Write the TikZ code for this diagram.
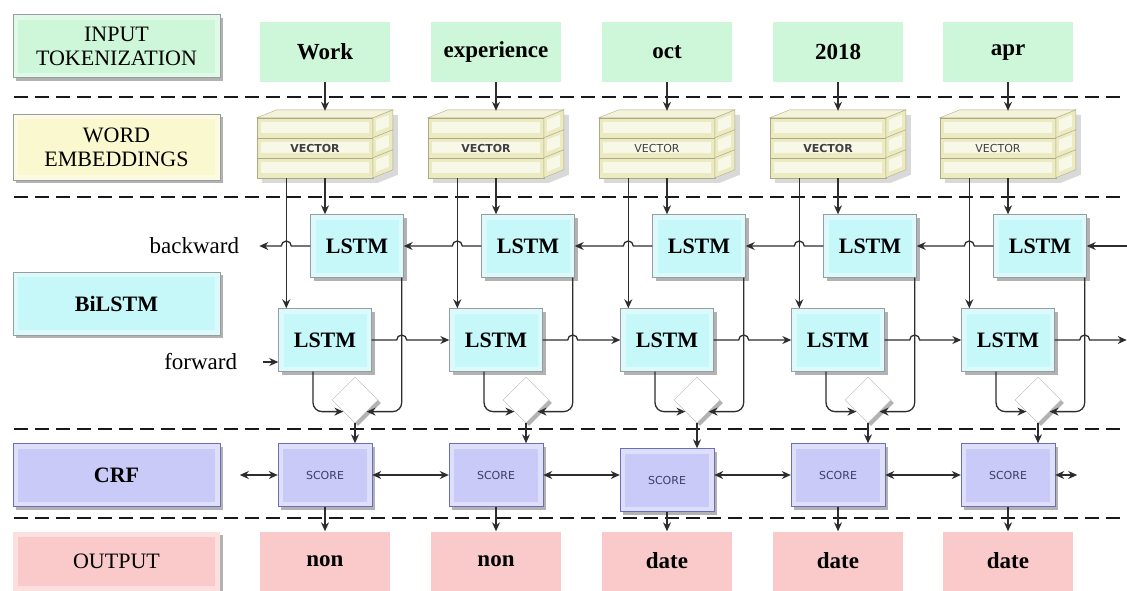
\documentclass[tikz,border=0pt]{standalone}
\usepackage{fontspec}
\setmainfont{Liberation Serif}
\newfontfamily\vecfont{DejaVu Sans}
\usetikzlibrary{shapes.geometric,arrows.meta,positioning,calc,shadows,backgrounds}

\definecolor{tokgreen}{RGB}{206,246,216}
\definecolor{embyellow}{RGB}{250,248,206}
\definecolor{lstmcyan}{RGB}{198,248,250}
\definecolor{crfblue}{RGB}{202,202,248}
\definecolor{outpink}{RGB}{250,202,202}
\definecolor{vecfill}{RGB}{236,234,192}
\definecolor{vecline}{RGB}{172,170,132}
\definecolor{boxline}{RGB}{150,158,158}
\definecolor{arrowgray}{RGB}{45,45,45}
\definecolor{scoretext}{RGB}{60,60,100}

\tikzset{
  glow/.style={path picture={
      \fill[white,opacity=.4] (path picture bounding box.south west) rectangle (path picture bounding box.north east);
      \fill[#1] ([shift={(5pt,5pt)}]path picture bounding box.south west) rectangle ([shift={(-5pt,-5pt)}]path picture bounding box.north east);}},
  shade box/.style={drop shadow={shadow xshift=3pt,shadow yshift=-3pt,opacity=.3,fill=black}},
  label box/.style={draw=boxline, fill=#1, glow=#1, shade box, minimum width=207pt, minimum height=63pt,
    align=center, inner sep=0pt, font=\fontsize{22}{24}\selectfont},
  token/.style={fill=tokgreen, minimum width=130pt, minimum height=60pt, font=\fontsize{23}{25}\selectfont\bfseries},
  result/.style={fill=outpink, minimum width=130pt, minimum height=59pt, font=\fontsize{23}{25}\selectfont\bfseries},
  vector/.style={minimum width=116pt, minimum height=60pt, inner sep=0pt, text=black!75},
  lstm/.style={draw=boxline, fill=lstmcyan, glow=lstmcyan, shade box, minimum width=93pt, minimum height=63pt,
    font=\fontsize{22}{24}\selectfont\bfseries},
  score/.style={draw=boxline!70!blue, fill=crfblue, glow=crfblue, shade box, minimum width=94pt, minimum height=63pt,
    text=scoretext, font=\vecfont\fontsize{11}{13}\selectfont},
  merge/.style={diamond, draw=gray!55, fill=white, shade box, minimum width=46pt, minimum height=46pt, inner sep=0pt},
  sidetext/.style={inner sep=2pt, font=\fontsize{23}{25}\selectfont},
  flow/.style={draw=arrowgray, line width=1.3pt, ->},
  divider/.style={line width=2.8pt, dash pattern=on 14pt off 7pt, black!90}
}

\begin{document}
\begin{tikzpicture}[x=1pt, y=-1pt, >={Stealth[length=9pt,width=8pt]}]
\useasboundingbox (0,0) rectangle (1127,590);

% row titles
\node[label box=tokgreen] (inlab) at (116.5,46) {INPUT\\TOKENIZATION};
\node[label box=embyellow, minimum height=66pt] (emblab) at (116.5,147) {WORD\\EMBEDDINGS};
\node[label box=lstmcyan, font=\fontsize{22}{24}\selectfont\bfseries] (bilab) at (116.5,303.5) {BiLSTM};
\node[label box=crfblue, draw=boxline!70!blue, font=\fontsize{22}{24}\selectfont\bfseries] (crflab) at (116.5,475) {CRF};
\node[label box=outpink, draw=none, minimum height=59pt] (outlab) at (116.5,561) {OUTPUT};

% dashed separators
\foreach \y in {97,197,429,518}
  \draw[divider] (14,\y) -- (1121,\y);

% one column per token
\foreach \i/\x/\word/\tag/\vw/\sy in {1/325/Work/non/\bfseries/475, 2/496/experience/non/\bfseries/475,
    3/667/oct/date/\mdseries/480, 4/838/2018/date/\bfseries/475, 5/1008/apr/date/\mdseries/475}{
  \node[token] (tok\i) at (\x,52) {\word};
  \node[vector, font=\vecfont\fontsize{11}{13}\selectfont\vw] (vec\i) at (\x-10,148) {VECTOR};
  \begin{scope}[on background layer, shift={(vec\i.north west)}]
    \fill[black, opacity=.15] (5,5) -- (25,-3) -- (141,-3) -- (141,57) -- (121,65) -- (5,65) -- cycle;
    \foreach \j in {0,20,40}{
      \draw[vecline, fill=vecfill] (0,\j) rectangle (116,\j+20);
      \fill[vecfill!35!white] (4,\j+4) rectangle (112,\j+15);
      \draw[vecline, fill=vecfill] (116,\j) -- (136,\j-8) -- (136,\j+12) -- (116,\j+20) -- cycle;
      \fill[vecfill!35!white] (119,\j+2) -- (132,\j-3) -- (132,\j+9) -- (119,\j+14) -- cycle;
    }
    \draw[vecline, fill=vecfill!60!white] (0,0) -- (20,-8) -- (136,-8) -- (116,0) -- cycle;
  \end{scope}
  \node[lstm] (bwd\i) at (\x+32,246) {LSTM};
  \node[lstm] (fwd\i) at (\x,340) {LSTM};
  \node[merge] (dia\i) at (\x+30,400) {};
  \node[score] (sc\i) at (\x,\sy) {SCORE};
  \node[result] (out\i) at (\x,561) {\tag};
}

% vertical flow inside each column
\foreach \i in {1,...,5}{
  \coordinate (vt\i) at ([yshift=7pt]vec\i.north);
  \coordinate (vf\i) at ([xshift=8pt]fwd\i.north west);
  \coordinate (bd\i) at ([xshift=-2pt]bwd\i.south east);
  \coordinate (fd\i) at ([xshift=-12pt]fwd\i.south);
  \coordinate (bc\i) at (vf\i |- bwd\i.west);
  \coordinate (fc\i) at (bd\i |- fwd\i.east);
  \draw[flow] (tok\i.south) -- (tok\i.south |- vt\i);
  \draw[flow] (vf\i |- vec\i.south) -- (vf\i);
  \draw[flow] (tok\i.south |- vec\i.south) -- (tok\i.south |- bwd\i.north);
  \draw[flow, rounded corners=9pt] (fd\i) |- (dia\i.south west);
  \draw[flow, rounded corners=9pt] (bd\i) |- (dia\i.south east);
  \draw[flow] (dia\i.south) -- (dia\i.south |- sc\i.north);
  \draw[flow] (sc\i.south) -- (out\i.north);
}

% links between columns
\foreach \i/\j in {1/2,2/3,3/4,4/5}{
  \draw[flow] (fwd\i.east) -- ([xshift=-5pt]fc\i) arc[start angle=180,end angle=0,radius=5pt] -- (fwd\j.west);
  \draw[flow] (bwd\j.west) -- ([xshift=5pt]bc\j) arc[start angle=0,end angle=180,radius=5pt] -- (bwd\i.east);
  \draw[flow, <->] (crflab -| sc\i.east) -- (crflab -| sc\j.west);
}

% open ends
\coordinate (bin) at ([xshift=-51pt]bwd1.west);
\coordinate (fin) at ([shift={(-15pt,-22pt)}]fwd1.west);
\coordinate (bout) at ([xshift=42pt]bwd5.east);
\coordinate (fout) at ([xshift=72pt]fwd5.east);
\coordinate (cin) at ([xshift=-38pt]sc1.west);
\coordinate (cout) at ([xshift=22pt]sc5.east);
\node[sidetext, left=18pt of bin] (bwdlab) {backward};
\node[sidetext, left=24pt of fin] (fwdlab) {forward};
\draw[flow] (bwd1.west) -- ([xshift=5pt]bc1) arc[start angle=0,end angle=180,radius=5pt] -- (bin);
\draw[flow] (fin) -- (fin -| fwd1.west);
\draw[flow] (bout) -- (bwd5.east);
\draw[flow] (fwd5.east) -- ([xshift=-5pt]fc5) arc[start angle=180,end angle=0,radius=5pt] -- (fout);
\draw[flow, <->] (cin) -- (sc1.west);
\draw[flow, <->] (sc5.east) -- (cout);
\end{tikzpicture}
\end{document}
